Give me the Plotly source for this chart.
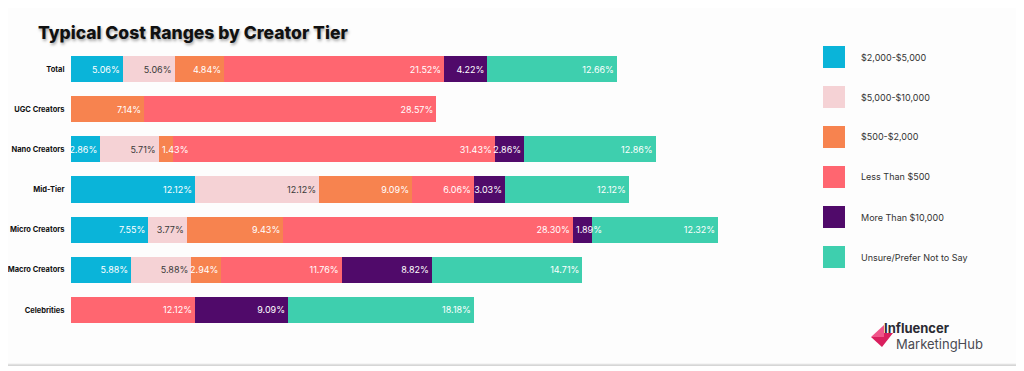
import plotly.graph_objects as go

# The page body adds an 8px margin, so the figure is sized/offset to compensate
OFF = 8
W, H = 1016, 363

tiers = ["Total", "UGC Creators", "Nano Creators", "Mid-Tier",
         "Micro Creators", "Macro Creators", "Celebrities"]
series_names = ["$2,000-$5,000", "$5,000-$10,000", "$500-$2,000",
                "Less Than $500", "More Than $10,000", "Unsure/Prefer Not to Say"]
s_2k_5k = [5.06, None, 2.86, 12.12, 7.55, 5.88, None]
s_5k_10k = [5.06, None, 5.71, 12.12, 3.77, 5.88, None]
s_500_2k = [4.84, 7.14, 1.43, 9.09, 9.43, 2.94, None]
s_lt500 = [21.52, 28.57, 31.43, 6.06, 28.30, 11.76, 12.12]
s_gt10k = [4.22, None, 2.86, 3.03, 1.89, 8.82, 9.09]
s_unsure = [12.66, None, 12.86, 12.12, 12.32, 14.71, 18.18]
series_values = [s_2k_5k, s_5k_10k, s_500_2k, s_lt500, s_gt10k, s_unsure]

colors = ["#0AB4D9", "#F5D2D5", "#F7834F", "#FF6670", "#500A6A", "#3ECFAE"]
text_colors = ["white", "#3a3a3a", "white", "white", "white", "white"]
SMALL = 2.5  # segments narrower than this get their label left-anchored


def px(x):
    return (x - OFF) / W


def py(y):
    return 1 - (y - OFF) / H


fig = go.Figure()
annotations = []
cum = [0.0] * len(tiers)
for name, vals, col, tcol in zip(series_names, series_values, colors, text_colors):
    texts = []
    for j, v in enumerate(vals):
        if v is None:
            texts.append("")
            continue
        if v < SMALL:
            texts.append("")
            annotations.append(dict(
                x=cum[j], y=tiers[j], xref="x", yref="y", text=f"{v:.2f}%",
                xanchor="left", yanchor="middle", showarrow=False, xshift=1,
                font=dict(color=tcol, size=9, family="Inter")))
        else:
            texts.append(f"{v:.2f}%")
        cum[j] += v
    fig.add_trace(go.Bar(
        y=tiers, x=vals, name=name, orientation="h",
        marker=dict(color=col, line=dict(width=0)),
        text=texts,
        textposition="inside", insidetextanchor="end", textangle=0,
        textfont=dict(color=tcol, size=9, family="Inter"),
        width=0.65, showlegend=False, cliponaxis=False,
    ))

shapes = []
# card shadow and card
shapes.append(dict(type="rect", xref="paper", yref="paper",
                   x0=px(6), x1=px(1020), y0=py(366), y1=py(-5),
                   fillcolor="#d6d6d6", line=dict(width=0), layer="below"))
shapes.append(dict(type="rect", xref="paper", yref="paper",
                   x0=px(5), x1=px(1018), y0=py(364), y1=py(-5),
                   fillcolor="#fdfdfd", line=dict(color="#ececec", width=1),
                   layer="below"))

annotations.append(dict(text="Typical Cost Ranges by Creator Tier",
                        xref="paper", yref="paper", x=px(36), y=py(32),
                        xanchor="left", yanchor="middle", showarrow=False,
                        font=dict(family="Inter", size=17.5, color="#111111",
                                  weight=800,
                                  shadow="1px 2px 3px rgba(0,0,0,0.35)")))

# custom legend
for i, (name, col) in enumerate(zip(series_names, colors)):
    cy = 57 + 40 * i
    shapes.append(dict(type="rect", xref="paper", yref="paper",
                       x0=px(823), x1=px(845), y0=py(cy + 11), y1=py(cy - 11),
                       fillcolor=col, line=dict(width=0)))
    annotations.append(dict(text=name, xref="paper", yref="paper",
                            x=px(859), y=py(cy), xanchor="left", yanchor="middle",
                            showarrow=False,
                            font=dict(family="Inter", size=9, color="#333333")))

# logo
def pts(points):
    return "M " + " L ".join(f"{px(x)},{py(y)}" for x, y in points) + " Z"

shapes.append(dict(type="path", xref="paper", yref="paper",
                   path=pts([(871, 337), (884, 325), (884, 337)]),
                   fillcolor="#F0558A", line=dict(width=0)))
shapes.append(dict(type="path", xref="paper", yref="paper",
                   path=pts([(871, 337), (884, 337), (884, 333), (893, 333), (882, 347)]),
                   fillcolor="#D91F5E", line=dict(width=0)))
annotations.append(dict(
    text="<b>Influencer</b>", xref="paper", yref="paper", x=px(883), y=py(337),
    xanchor="left", yanchor="bottom", showarrow=False, borderpad=0,
    font=dict(family="Inter", size=13, color="#2b2b33")))
annotations.append(dict(
    text="MarketingHub", xref="paper", yref="paper", x=px(895), y=py(335),
    xanchor="left", yanchor="top", showarrow=False, borderpad=0,
    font=dict(family="Inter", size=13, color="#4a4a52")))

fig.update_layout(
    width=W, height=H,
    margin=dict(l=0, r=0, t=0, b=0),
    barmode="stack",
    paper_bgcolor="white", plot_bgcolor="rgba(0,0,0,0)",
    uniformtext=dict(minsize=9, mode="show"),
    shapes=shapes, annotations=annotations,
    xaxis=dict(domain=[px(71), px(71 + 70 * 10.23)], range=[0, 70],
               visible=False, fixedrange=True),
    yaxis=dict(domain=[py(330), py(49)], range=[6.5, -0.5],
               type="category", automargin=False,
               showgrid=False, zeroline=False, showline=False,
               ticks="outside", ticklen=4, tickcolor="rgba(0,0,0,0)",
               tickfont=dict(family="Inter", size=7.5, color="#111111",
                             weight="bold")),
    font=dict(family="Inter"),
)

fig.write_html("out.html")
